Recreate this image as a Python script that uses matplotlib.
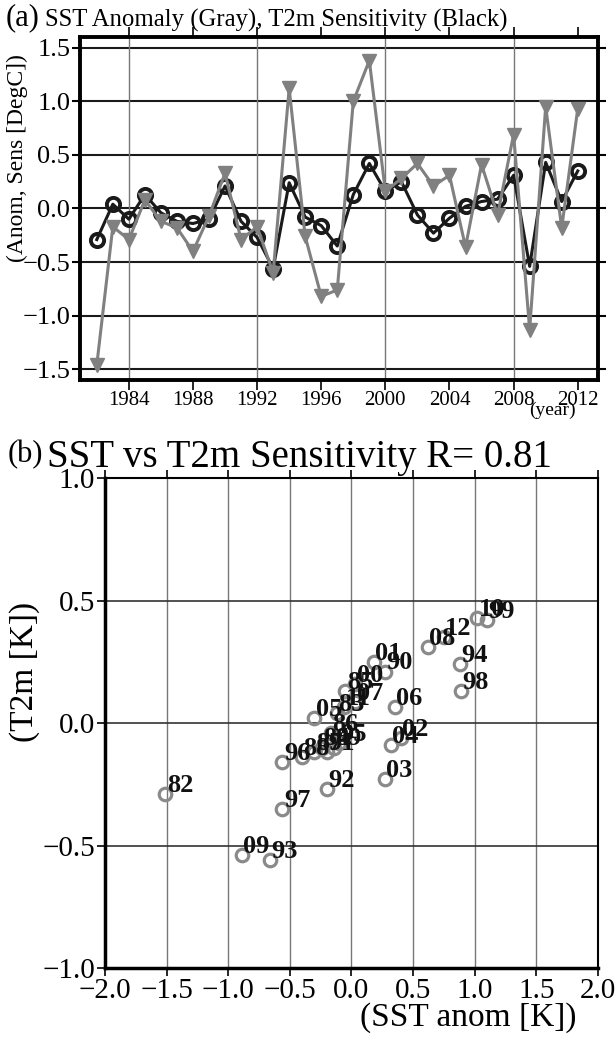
import matplotlib
matplotlib.use("Agg")
import matplotlib.pyplot as plt
import numpy as np

plt.rcParams['font.family'] = ['Liberation Serif', 'DejaVu Serif']
plt.rcParams['axes.unicode_minus'] = True

years = list(range(1982, 2013))

# T2m sensitivity (black line, also y of scatter)
t2m_sens = [-0.29, 0.04, -0.10, 0.13, -0.04, -0.12, -0.14, -0.10, 0.21, -0.12,
            -0.27, -0.56, 0.24, -0.08, -0.16, -0.35, 0.13, 0.42, 0.16, 0.25,
            -0.06, -0.23, -0.09, 0.02, 0.065, 0.087, 0.31, -0.54, 0.43, 0.065,
            0.35]

# SST anomaly (gray line, panel a)
sst_anom = [-1.46, -0.17, -0.29, 0.08, -0.12, -0.18, -0.40, -0.07, 0.33, -0.29,
            -0.17, -0.60, 1.12, -0.26, -0.82, -0.76, 1.00, 1.38, 0.16, 0.28,
            0.42, 0.21, 0.31, -0.36, 0.41, -0.06, 0.69, -1.13, 0.95, -0.18,
            0.93]

# SST anom used in scatter (panel b)
sst_scatter = [-1.51, -0.12, -0.24, -0.05, -0.17, -0.30, -0.40, -0.14, 0.27, -0.20,
               -0.20, -0.66, 0.88, -0.10, -0.56, -0.56, 0.89, 1.10, 0.03, 0.18,
               0.40, 0.27, 0.32, -0.30, 0.35, 0.03, 0.62, -0.89, 1.02, -0.06,
               0.75]


def fmt(v):
    return f"{v:.1f}".replace('-', '\u2212')


fig = plt.figure(figsize=(6.15, 10.44), dpi=100)

# ---- panel (a)
ax1 = fig.add_axes([0.130, 0.636, 0.842, 0.3286])
ax1.set_xlim(1980.95, 2013.25)
ax1.set_ylim(-1.6, 1.6)
for yv in np.arange(-1.5, 1.51, 0.5):
    ax1.axhline(yv, color='#1a1a1a', lw=1.5, zorder=1)
for xv in [1984, 1992, 2000, 2008]:
    ax1.axvline(xv, color='#777777', lw=1.0, zorder=1)

ax1.plot(years, t2m_sens, '-', color='#1a1a1a', lw=2.2, marker='o', ms=9.5,
         mfc='none', mec='#1a1a1a', mew=2.8, zorder=3)
ax1.plot(years, sst_anom, '-', color='#808080', lw=2.2, marker='v', ms=10,
         mfc='#808080', mec='#808080', zorder=4)

ax1.set_xticks(range(1984, 2013, 4))
yt1 = np.arange(-1.5, 1.51, 0.5)
ax1.set_yticks(yt1)
ax1.set_yticklabels([fmt(v) for v in yt1])
ax1.tick_params(axis='x', direction='out', length=7, width=1.2, top=True,
                labelsize=15, pad=1)
ax1.tick_params(axis='y', direction='out', length=6, width=1.5, right=True,
                labelsize=19, pad=1)
for s in ax1.spines.values():
    s.set_linewidth(2.8)

fig.text(17 / 615, 1 - 158 / 1044, "(Anom, Sens [DegC])", fontsize=17,
         rotation=90, va='center', ha='center')
fig.text(6 / 615, 1 - 18 / 1044, "(a)", fontsize=22, va='center', ha='left')
fig.text(45 / 615, 1 - 20 / 1044, "SST Anomaly (Gray), T2m Sensitivity (Black)",
         fontsize=17.8, va='center', ha='left')
fig.text(552 / 615, 1 - 410 / 1044, "(year)", fontsize=14, va='center', ha='center')

# ---- panel (b)
ax2 = fig.add_axes([0.1707, 0.0728, 0.8016, 0.4693])
ax2.set_xlim(-2, 2)
ax2.set_ylim(-1, 1)
for xv in np.arange(-1.5, 1.51, 0.5):
    ax2.axvline(xv, color='#777777', lw=1.0, zorder=1)
for yv in [-0.5, 0.0, 0.5]:
    ax2.axhline(yv, color='#333333', lw=1.2, zorder=1)

ax2.plot(sst_scatter, t2m_sens, 'o', ms=9, mfc='none', mec='#8a8a8a', mew=2.3,
         zorder=3)
for yr, xv, yv in zip(years, sst_scatter, t2m_sens):
    ax2.annotate(f"{yr % 100:02d}", (xv, yv), xytext=(1, 1.5),
                 textcoords='offset points', fontsize=19, fontweight='bold',
                 ha='left', va='baseline', color='#111111', zorder=4)

xt = np.arange(-2.0, 2.01, 0.5)
ax2.set_xticks(xt)
ax2.set_xticklabels([fmt(v) for v in xt])
yt = np.arange(-1.0, 1.01, 0.5)
ax2.set_yticks(yt)
ax2.set_yticklabels([fmt(v) for v in yt])
ax2.tick_params(axis='both', direction='out', length=6, width=1.2,
                labelsize=21, pad=1)
ax2.tick_params(axis='x', top=True)
ax2.spines['left'].set_linewidth(2.5)
ax2.spines['bottom'].set_linewidth(2.5)
ax2.spines['top'].set_linewidth(1.5)
ax2.spines['right'].set_linewidth(1.5)

fig.text(25 / 615, 1 - 672 / 1044, "(T2m [K])", fontsize=24, rotation=90,
         va='center', ha='center')
fig.text(468 / 615, 1 - 1018 / 1044, "(SST anom [K])", fontsize=24,
         va='center', ha='center')
fig.text(8 / 615, 1 - 455 / 1044, "(b)", fontsize=22, va='center', ha='left')
fig.text(47 / 615, 1 - 457 / 1044, "SST vs T2m Sensitivity R= 0.81", fontsize=28,
         va='center', ha='left')

fig.savefig("out.png", dpi=100)
